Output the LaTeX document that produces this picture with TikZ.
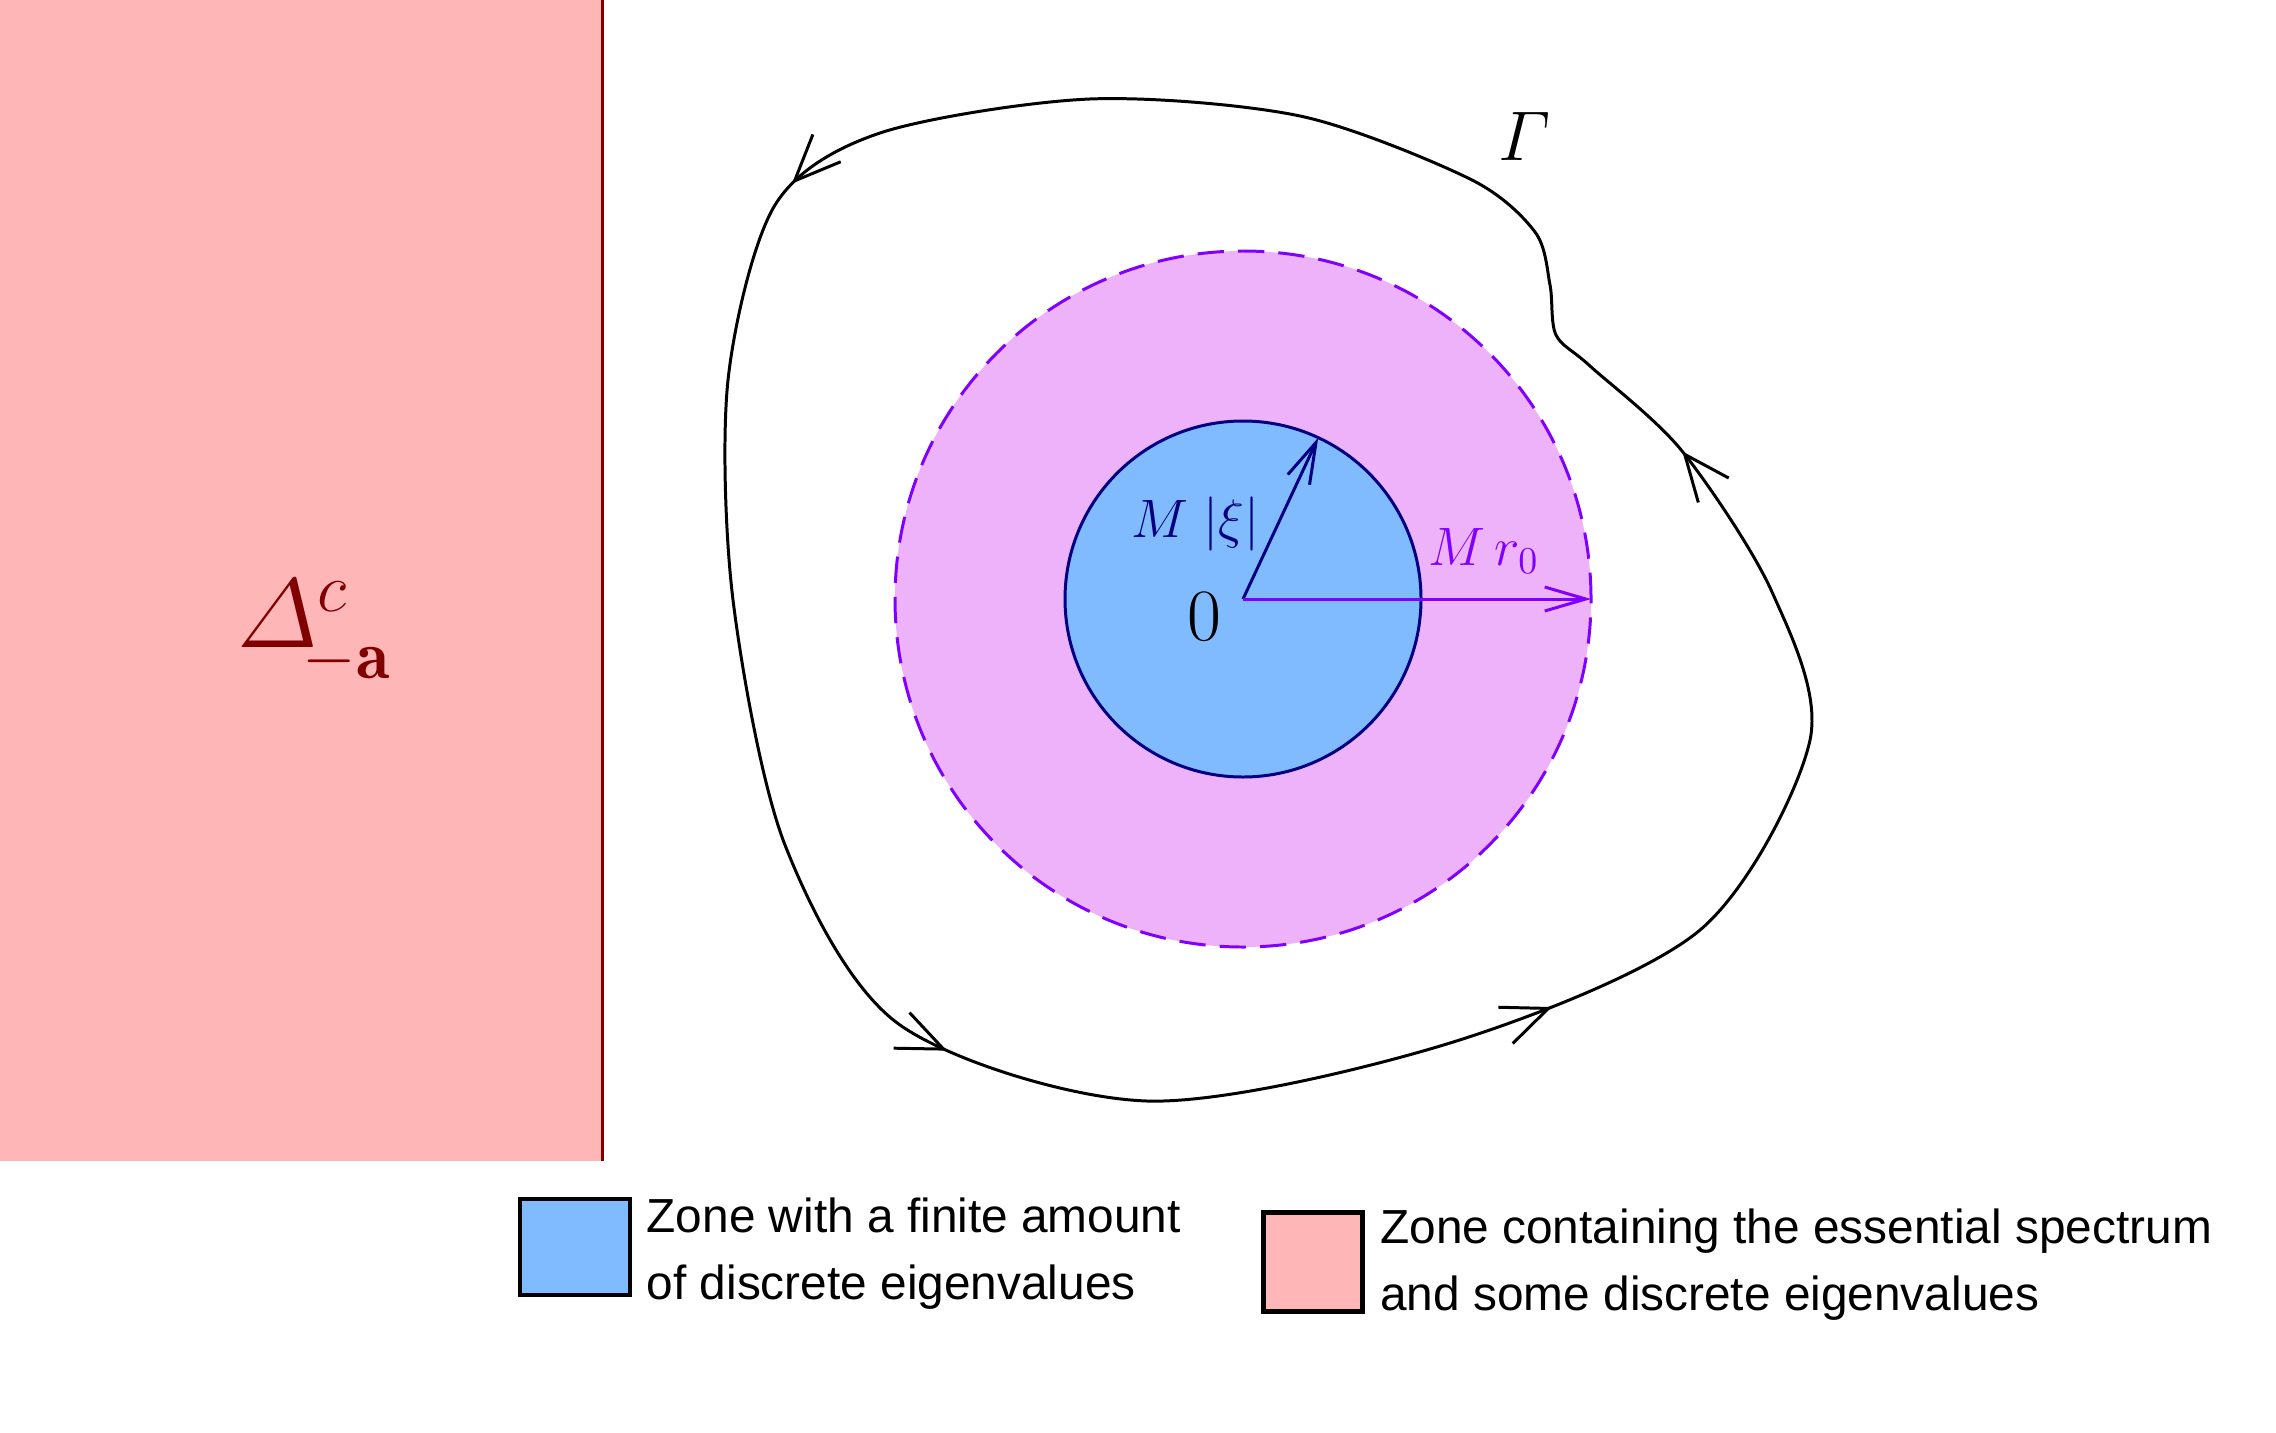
\RequirePackage{fix-cm}
\documentclass[tikz,border=0pt]{standalone}
\usepackage{amsmath}
\usepackage{amssymb}
\usepackage{fontspec}
\newfontfamily\legendfont{Liberation Sans}
\usetikzlibrary{arrows.meta,decorations.markings,positioning}

\definecolor{zonepink}{RGB}{255,182,182}
\definecolor{zonered}{RGB}{128,0,0}
\definecolor{discblue}{RGB}{128,186,255}
\definecolor{discnavy}{RGB}{0,0,128}
\definecolor{ringlilac}{RGB}{238,178,250}
\definecolor{ringviolet}{RGB}{128,0,255}

\newcommand{\flowarrow}{\arrow{Straight Barb[length=4.6mm,width=3.9mm]}}

\tikzset{
  keybox/.style={draw, line width=1.3pt, inner sep=0pt},
  keytext/.style={align=left, inner sep=0pt, font=\legendfont\fontsize{13.6}{19}\selectfont},
  radarrow/.style={-{Straight Barb[length=4.1mm,width=2.4mm]}, line width=0.85pt},
  flow/.style={postaction={decorate}, decoration={markings,
    mark=at position 0.094 with {\flowarrow},
    mark=at position 0.377 with {\flowarrow},
    mark=at position 0.563 with {\flowarrow},
    mark=at position 0.775 with {\flowarrow}}}
}

\begin{document}
\begin{tikzpicture}[line width=0.85pt]
        \path[use as bounding box] (0,0) rectangle (22.76,-14.32);

        \fill[zonepink] (0,0) rectangle (6.02,-11.61);
        \draw[zonered] (6.02,0) -- (6.02,-11.61);
        \node[text=zonered, anchor=base west, inner sep=0pt, font=\fontsize{28}{34}\selectfont] (delta) at (2.36,-6.47) {$\varDelta^{c}_{\mkern-4mu\lower2pt\hbox{$\scriptstyle-\mathbf{a}$}}$};

        \coordinate (O) at (12.43,-5.99);
        \fill[ringlilac] (O) circle (3.48);
        \draw[ringviolet, dash pattern=on 7.5pt off 4pt] (O) circle (3.48);
        \draw[discnavy, fill=discblue] (O) circle (1.78);

        \coordinate (xi) at ([shift={(65:1.78)}]O);
        \coordinate (r0) at ([shift={(0:3.48)}]O);
        \draw[radarrow, discnavy] (O) -- (xi);
        \draw[radarrow, ringviolet] (O) -- (r0);

        \node[anchor=base, inner sep=0pt, font=\fontsize{21}{25}\selectfont] (zero) at (12.04,-6.40) {$0$};
        \node[text=discnavy, anchor=base west, inner sep=0pt, font=\fontsize{15.4}{18}\selectfont] (xilabel) at (11.30,-5.37) {$M\;|\xi|$};
        \node[text=ringviolet, anchor=base west, inner sep=0pt, font=\fontsize{15.4}{18}\selectfont] (r0label) at (14.27,-5.65) {$M\,r_0$};

        \draw[flow] plot[smooth cycle] coordinates {
          (13.00,-1.16) (10.90,-0.99) (8.80,-1.33) (7.75,-2.05) (7.28,-3.80)
          (7.33,-6.00) (7.85,-8.45) (9.00,-10.25) (11.47,-11.01) (14.50,-10.43)
          (17.00,-9.30) (18.10,-7.40) (17.72,-5.92) (16.82,-4.51) (15.90,-3.66)
          (15.56,-3.35) (15.50,-2.85) (15.35,-2.32) (14.70,-1.79)};
        \node[anchor=base west, inner sep=0pt, font=\fontsize{20}{24}\selectfont] (gamma) at (14.97,-1.60) {$\varGamma$};

        \node[keybox, fill=discblue, minimum width=1.10cm, minimum height=0.96cm] (bluekey) at (5.75,-12.47) {};
        \node[keytext, right=0.13cm of bluekey, yshift=-0.07cm] (bluetext) {Zone with a finite amount\\of discrete eigenvalues};
        \node[keybox, fill=zonepink, minimum width=0.99cm, minimum height=0.99cm] (pinkkey) at (13.13,-12.62) {};
        \node[keytext, right=0.14cm of pinkkey, yshift=-0.03cm] (pinktext) {Zone containing the essential spectrum\\and some discrete eigenvalues};
      \end{tikzpicture}
\end{document}
